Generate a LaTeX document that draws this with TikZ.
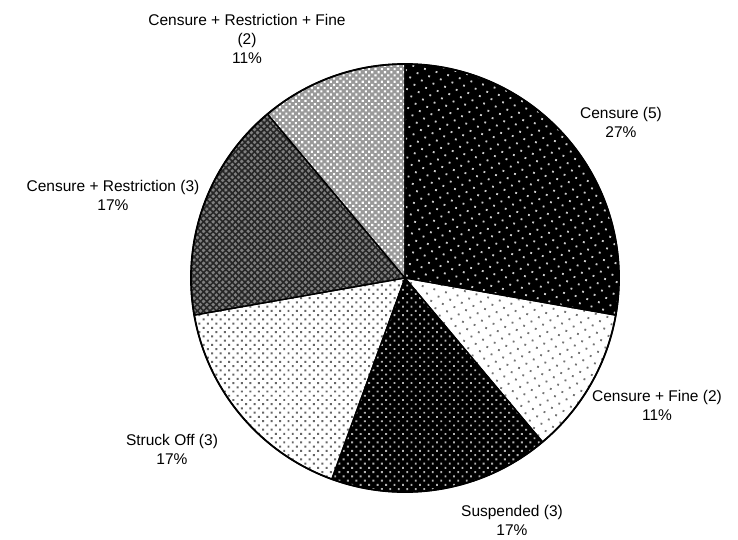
\documentclass[tikz,border=0pt]{standalone}
\usepackage{fontspec}
\setmainfont{Liberation Sans}
\usetikzlibrary{patterns.meta}
\begin{document}
\begin{tikzpicture}[x=1pt,y=-1pt,
  lbl/.style={align=center,font=\fontsize{15.5}{19}\selectfont,inner sep=0pt},
  wedge/.style={draw=black,line width=1.3pt,line join=round}]
\useasboundingbox (0,0) rectangle (738,540);
\coordinate (c) at (405,278);
\def\R{214}
% Censure (5)
\fill[black] (c) -- ++(-90:\R) arc[start angle=-90,end angle=10,radius=\R] -- cycle;
\fill[pattern={Dots[radius=1.3pt,distance=8.5pt,angle=30]},pattern color=white!80!black] (c) -- ++(-90:\R) arc[start angle=-90,end angle=10,radius=\R] -- cycle;
% Censure + Fine (2)
\fill[white] (c) -- ++(10:\R) arc[start angle=10,end angle=50,radius=\R] -- cycle;
\fill[pattern={Dots[radius=1.3pt,distance=8.5pt,angle=30]},pattern color=black!55] (c) -- ++(10:\R) arc[start angle=10,end angle=50,radius=\R] -- cycle;
% Suspended (3)
\fill[black] (c) -- ++(50:\R) arc[start angle=50,end angle=110,radius=\R] -- cycle;
\fill[pattern={Dots[radius=1.3pt,distance=6pt,angle=45]},pattern color=white!70!black] (c) -- ++(50:\R) arc[start angle=50,end angle=110,radius=\R] -- cycle;
% Struck Off (3)
\fill[white] (c) -- ++(110:\R) arc[start angle=110,end angle=170,radius=\R] -- cycle;
\fill[pattern={Dots[radius=1.4pt,distance=6pt,angle=45]},pattern color=black!60] (c) -- ++(110:\R) arc[start angle=110,end angle=170,radius=\R] -- cycle;
% Censure + Restriction (3)
\fill[black!50] (c) -- ++(170:\R) arc[start angle=170,end angle=230,radius=\R] -- cycle;
\fill[pattern={Lines[angle=45,distance=4.5pt,line width=1.6pt]},pattern color=black!85] (c) -- ++(170:\R) arc[start angle=170,end angle=230,radius=\R] -- cycle;
\fill[pattern={Lines[angle=-45,distance=4.5pt,line width=1.6pt]},pattern color=black!85] (c) -- ++(170:\R) arc[start angle=170,end angle=230,radius=\R] -- cycle;
% Censure + Restriction + Fine (2)
\fill[black!40] (c) -- ++(230:\R) arc[start angle=230,end angle=270,radius=\R] -- cycle;
\fill[pattern={Dots[radius=1.5pt,distance=4.5pt,angle=45]},pattern color=white] (c) -- ++(230:\R) arc[start angle=230,end angle=270,radius=\R] -- cycle;
% outlines
\foreach \a/\b in {-90/10,10/50,50/110,110/170,170/230,230/270}
  \draw[wedge] (c) -- ++(\a:\R) arc[start angle=\a,end angle=\b,radius=\R] -- cycle;
\draw[line width=1.8pt] (c) circle[radius=\R];
% labels
\node[lbl] (l1) at (247,39) {Censure + Restriction + Fine\\(2)\\11\%};
\node[lbl] (l2) at (621,122.5) {Censure (5)\\27\%};
\node[lbl] (l3) at (113,195.5) {Censure + Restriction (3)\\17\%};
\node[lbl] (l4) at (657,405.5) {Censure + Fine (2)\\11\%};
\node[lbl] (l5) at (172,449.5) {Struck Off (3)\\17\%};
\node[lbl] (l6) at (512,520.5) {Suspended (3)\\17\%};
\end{tikzpicture}
\end{document}
